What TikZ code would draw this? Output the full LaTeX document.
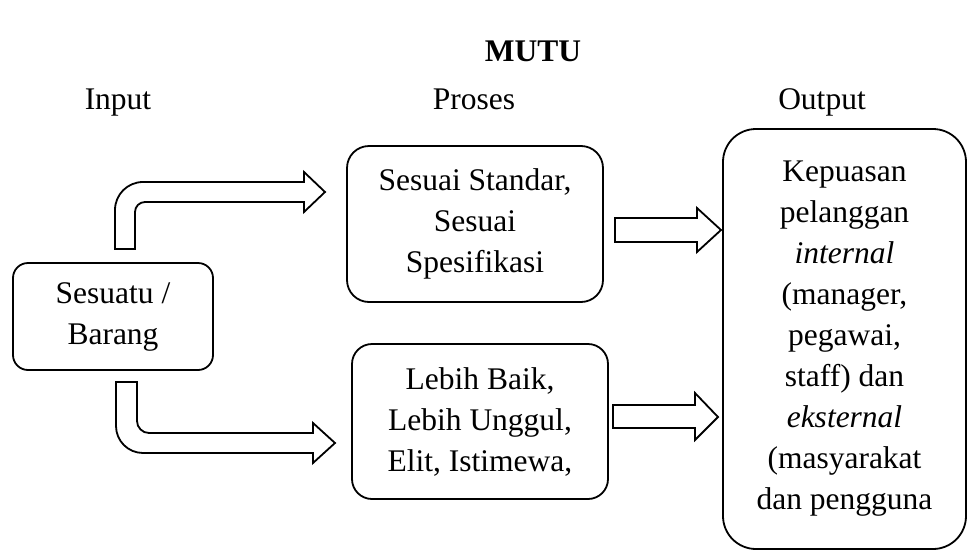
\documentclass[tikz,border=0pt]{standalone}
\usepackage{fontspec}
\setmainfont{Liberation Serif}
\begin{document}
\begin{tikzpicture}[x=1pt,y=-1pt,
  txt/.style={font=\fontsize{31.5}{41}\selectfont, align=center, inner sep=0pt},
  box/.style={txt, draw, line width=1.8pt},
  blockarrow/.style={draw, fill=white, line width=1.8pt, line join=miter}]
\useasboundingbox (0,0) rectangle (970,552);
% titles
\node[txt, anchor=base, font=\fontsize{31.5}{41}\selectfont\bfseries] (title) at (533,61) {MUTU};
\node[txt, anchor=base] (lin) at (118,109) {Input};
\node[txt, anchor=base] (lpr) at (474,109) {Proses};
\node[txt, anchor=base] (lout) at (822,109) {Output};
% boxes
\node[box, rounded corners=15pt, minimum width=200pt, minimum height=107pt] (src) at (113,316.5) {Sesuatu /\\Barang};
\node[box, rounded corners=22pt, minimum width=256pt, minimum height=156pt] (std) at (475,224) {Sesuai Standar,\\Sesuai\\Spesifikasi};
\node[box, rounded corners=20pt, minimum width=256pt, minimum height=155pt] (ung) at (480,421.5) {Lebih Baik,\\Lebih Unggul,\\Elit, Istimewa,};
\node[box, rounded corners=33pt, minimum width=243pt, minimum height=420pt] (out) at (844.5,339) {Kepuasan\\pelanggan\\\textit{internal}\\(manager,\\pegawai,\\staff) dan\\\textit{eksternal}\\(masyarakat\\dan pengguna};
% bent arrow up
\draw[blockarrow] (115,249) -- (115,210) arc[start angle=180,end angle=90,radius=28pt]
  -- (304,182) -- (304,172) -- (325,192) -- (304,212) -- (304,202)
  -- (145,202) arc[start angle=90,end angle=180,radius=10pt] -- (135,249) -- cycle;
% bent arrow down
\draw[blockarrow] (116,382) -- (116,426) arc[start angle=180,end angle=270,radius=27pt]
  -- (313,453) -- (313,463) -- (335,443) -- (313,423) -- (313,433)
  -- (149,433) arc[start angle=270,end angle=180,radius=12pt] -- (137,382) -- cycle;
% straight arrows
\draw[blockarrow] (615,218) -- (697,218) -- (697,208) -- (721,230) -- (697,252) -- (697,242) -- (615,242) -- cycle;
\draw[blockarrow] (613,405) -- (695,405) -- (695,393) -- (718,417) -- (695,440) -- (695,428) -- (613,428) -- cycle;
\end{tikzpicture}
\end{document}
